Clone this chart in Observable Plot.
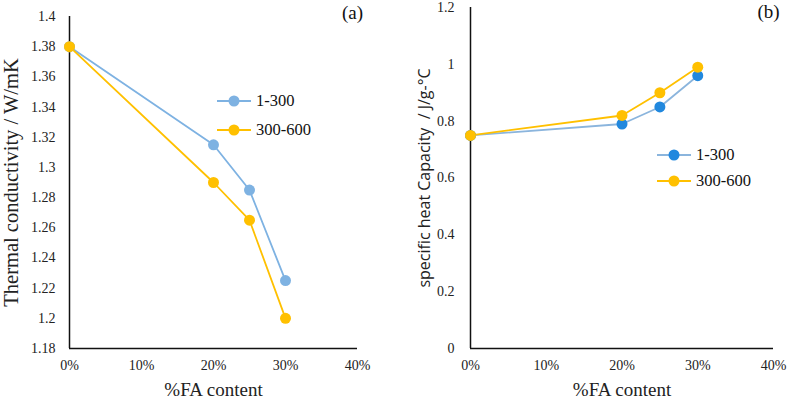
<!DOCTYPE html>
<html>
<head>
<meta charset="utf-8">
<script src="https://cdn.jsdelivr.net/npm/d3@7"></script>
<script src="https://cdn.jsdelivr.net/npm/@observablehq/plot@0.6"></script>
<style>
  html, body { margin: 0; padding: 0; background: #fff; }
  #wrap { position: relative; width: 788px; height: 399px; overflow: hidden; }
  .panel { position: absolute; top: 0; }
  .legend { position: absolute; font-family: 'Liberation Serif', 'DejaVu Serif', serif; font-size: 16.5px; color: #111; }
  .legend .row { display: flex; align-items: center; }
  .legend svg { margin-right: 5px; }
</style>
</head>
<body>
<div id="wrap"></div>
<script>
// ---- data ----
const fa = [0, 0.20, 0.25, 0.30];
const seriesNames = ["1-300", "300-600"];
const thermal_1_300 = [1.38, 1.315, 1.285, 1.225];
const thermal_300_600 = [1.38, 1.29, 1.265, 1.20];
const heat_1_300 = [0.75, 0.79, 0.85, 0.96];
const heat_300_600 = [0.75, 0.82, 0.90, 0.99];
const xTicks = [0, 0.1, 0.2, 0.3, 0.4];
const yTicksA = [1.18, 1.2, 1.22, 1.24, 1.26, 1.28, 1.3, 1.32, 1.34, 1.36, 1.38, 1.4];
const yTicksB = [0, 0.2, 0.4, 0.6, 0.8, 1, 1.2];

const serif = "'Liberation Serif', 'DejaVu Serif', serif";
const sans = "'Open Sans', 'Noto Sans', sans-serif";
const yellow = "#FFC000";
const blueA = "#7EB2E2";
const blueLineB = "#8BB5DD";
const blueDotB = "#2188DE";

function rows(ys, name) { return fa.map((x, i) => ({x, y: ys[i], s: name})); }
const fmtPct = d => Math.round(d * 100) + "%";
const fmtNum = d => String(+d.toFixed(2));

const wrap = document.getElementById("wrap");
const svgStyle = `font-family: ${serif}; font-size: 14px; color: #222; background: transparent;`;

// ---- panel (a) ----
const a1 = rows(thermal_1_300, seriesNames[0]);
const a2 = rows(thermal_300_600, seriesNames[1]);
const plotA = Plot.plot({
  width: 400, height: 399,
  marginLeft: 69, marginRight: 43, marginTop: 16, marginBottom: 51,
  style: svgStyle,
  x: {domain: [0, 0.4]},
  y: {domain: [1.18, 1.4]},
  marks: [
    Plot.axisX({ticks: xTicks, tickFormat: fmtPct, tickSize: 0, tickPadding: 12, label: null, fontFamily: serif, fontSize: 14, fill: "#222"}),
    Plot.axisY({ticks: yTicksA, tickFormat: fmtNum, tickSize: 0, tickPadding: 14, label: null, fontFamily: serif, fontSize: 14, fill: "#222"}),
    Plot.ruleX([0], {stroke: "#111", strokeWidth: 1.5}),
    Plot.ruleY([1.18], {stroke: "#111", strokeWidth: 1.5}),
    Plot.line(a1, {x: "x", y: "y", stroke: blueA, strokeWidth: 1.8}),
    Plot.line(a2, {x: "x", y: "y", stroke: yellow, strokeWidth: 1.8}),
    Plot.dot(a1, {x: "x", y: "y", r: 5.5, fill: blueA}),
    Plot.dot(a2, {x: "x", y: "y", r: 5.5, fill: yellow}),
    Plot.text(["%FA content"], {frameAnchor: "bottom", dy: 41, textAnchor: "middle", lineAnchor: "middle", fontSize: 19, fontFamily: serif, fill: "#222"}),
    Plot.text(["Thermal conductivity / W/mK"], {frameAnchor: "left", rotate: -90, dx: -58, textAnchor: "middle", lineAnchor: "middle", fontSize: 20.5, fontFamily: serif, fill: "#222"}),
    Plot.text(["(a)"], {frameAnchor: "top-right", dx: -5, dy: -4, textAnchor: "middle", lineAnchor: "middle", fontSize: 19, fontFamily: serif, fill: "#111"})
  ]
});
const pa = document.createElement("div");
pa.className = "panel"; pa.style.left = "0px";
pa.appendChild(plotA);
wrap.appendChild(pa);

// ---- panel (b) ----
const b1 = rows(heat_1_300, seriesNames[0]);
const b2 = rows(heat_300_600, seriesNames[1]);
const plotB = Plot.plot({
  width: 388, height: 399,
  marginLeft: 70, marginRight: 15, marginTop: 7, marginBottom: 51,
  style: svgStyle,
  x: {domain: [0, 0.4]},
  y: {domain: [0, 1.2]},
  marks: [
    Plot.axisX({ticks: xTicks, tickFormat: fmtPct, tickSize: 0, tickPadding: 12, label: null, fontFamily: serif, fontSize: 14, fill: "#222"}),
    Plot.axisY({ticks: yTicksB, tickFormat: fmtNum, tickSize: 0, tickPadding: 16, label: null, fontFamily: serif, fontSize: 14, fill: "#222"}),
    Plot.ruleX([0], {stroke: "#111", strokeWidth: 1.5}),
    Plot.ruleY([0], {stroke: "#111", strokeWidth: 1.5}),
    Plot.line(b1, {x: "x", y: "y", stroke: blueLineB, strokeWidth: 1.8}),
    Plot.line(b2, {x: "x", y: "y", stroke: yellow, strokeWidth: 1.8}),
    Plot.dot(b1, {x: "x", y: "y", r: 5.5, fill: blueDotB}),
    Plot.dot(b2, {x: "x", y: "y", r: 5.5, fill: yellow}),
    Plot.text(["%FA content"], {frameAnchor: "bottom", dy: 41, textAnchor: "middle", lineAnchor: "middle", fontSize: 19, fontFamily: serif, fill: "#222"}),
    Plot.text(["specific heat Capacity  / J/g-°C"], {frameAnchor: "left", rotate: -90, dx: -46, textAnchor: "middle", lineAnchor: "middle", fontSize: 16, fontFamily: sans, fill: "#222"}),
    Plot.text(["(b)"], {frameAnchor: "top-right", dx: -5, dy: 4, textAnchor: "middle", lineAnchor: "middle", fontSize: 19, fontFamily: serif, fill: "#111"})
  ]
});
const pb = document.createElement("div");
pb.className = "panel"; pb.style.left = "400px";
pb.appendChild(plotB);
wrap.appendChild(pb);

// ---- legends ----
function legend(left, top, rowH, entries) {
  const d = document.createElement("div");
  d.className = "legend";
  d.style.left = left + "px"; d.style.top = top + "px";
  for (const [name, line, dot] of entries) {
    const r = document.createElement("div");
    r.className = "row";
    r.style.height = rowH + "px";
    r.innerHTML = `<svg width="34" height="14"><line x1="0" y1="7" x2="34" y2="7" stroke="${line}" stroke-width="1.8"/><circle cx="17" cy="7" r="5.5" fill="${dot}"/></svg><span>${name}</span>`;
    d.appendChild(r);
  }
  wrap.appendChild(d);
}
legend(217, 86, 29, [[seriesNames[0], blueA, blueA], [seriesNames[1], yellow, yellow]]);
legend(657, 142, 26, [[seriesNames[0], blueLineB, blueDotB], [seriesNames[1], yellow, yellow]]);
</script>
</body>
</html>
